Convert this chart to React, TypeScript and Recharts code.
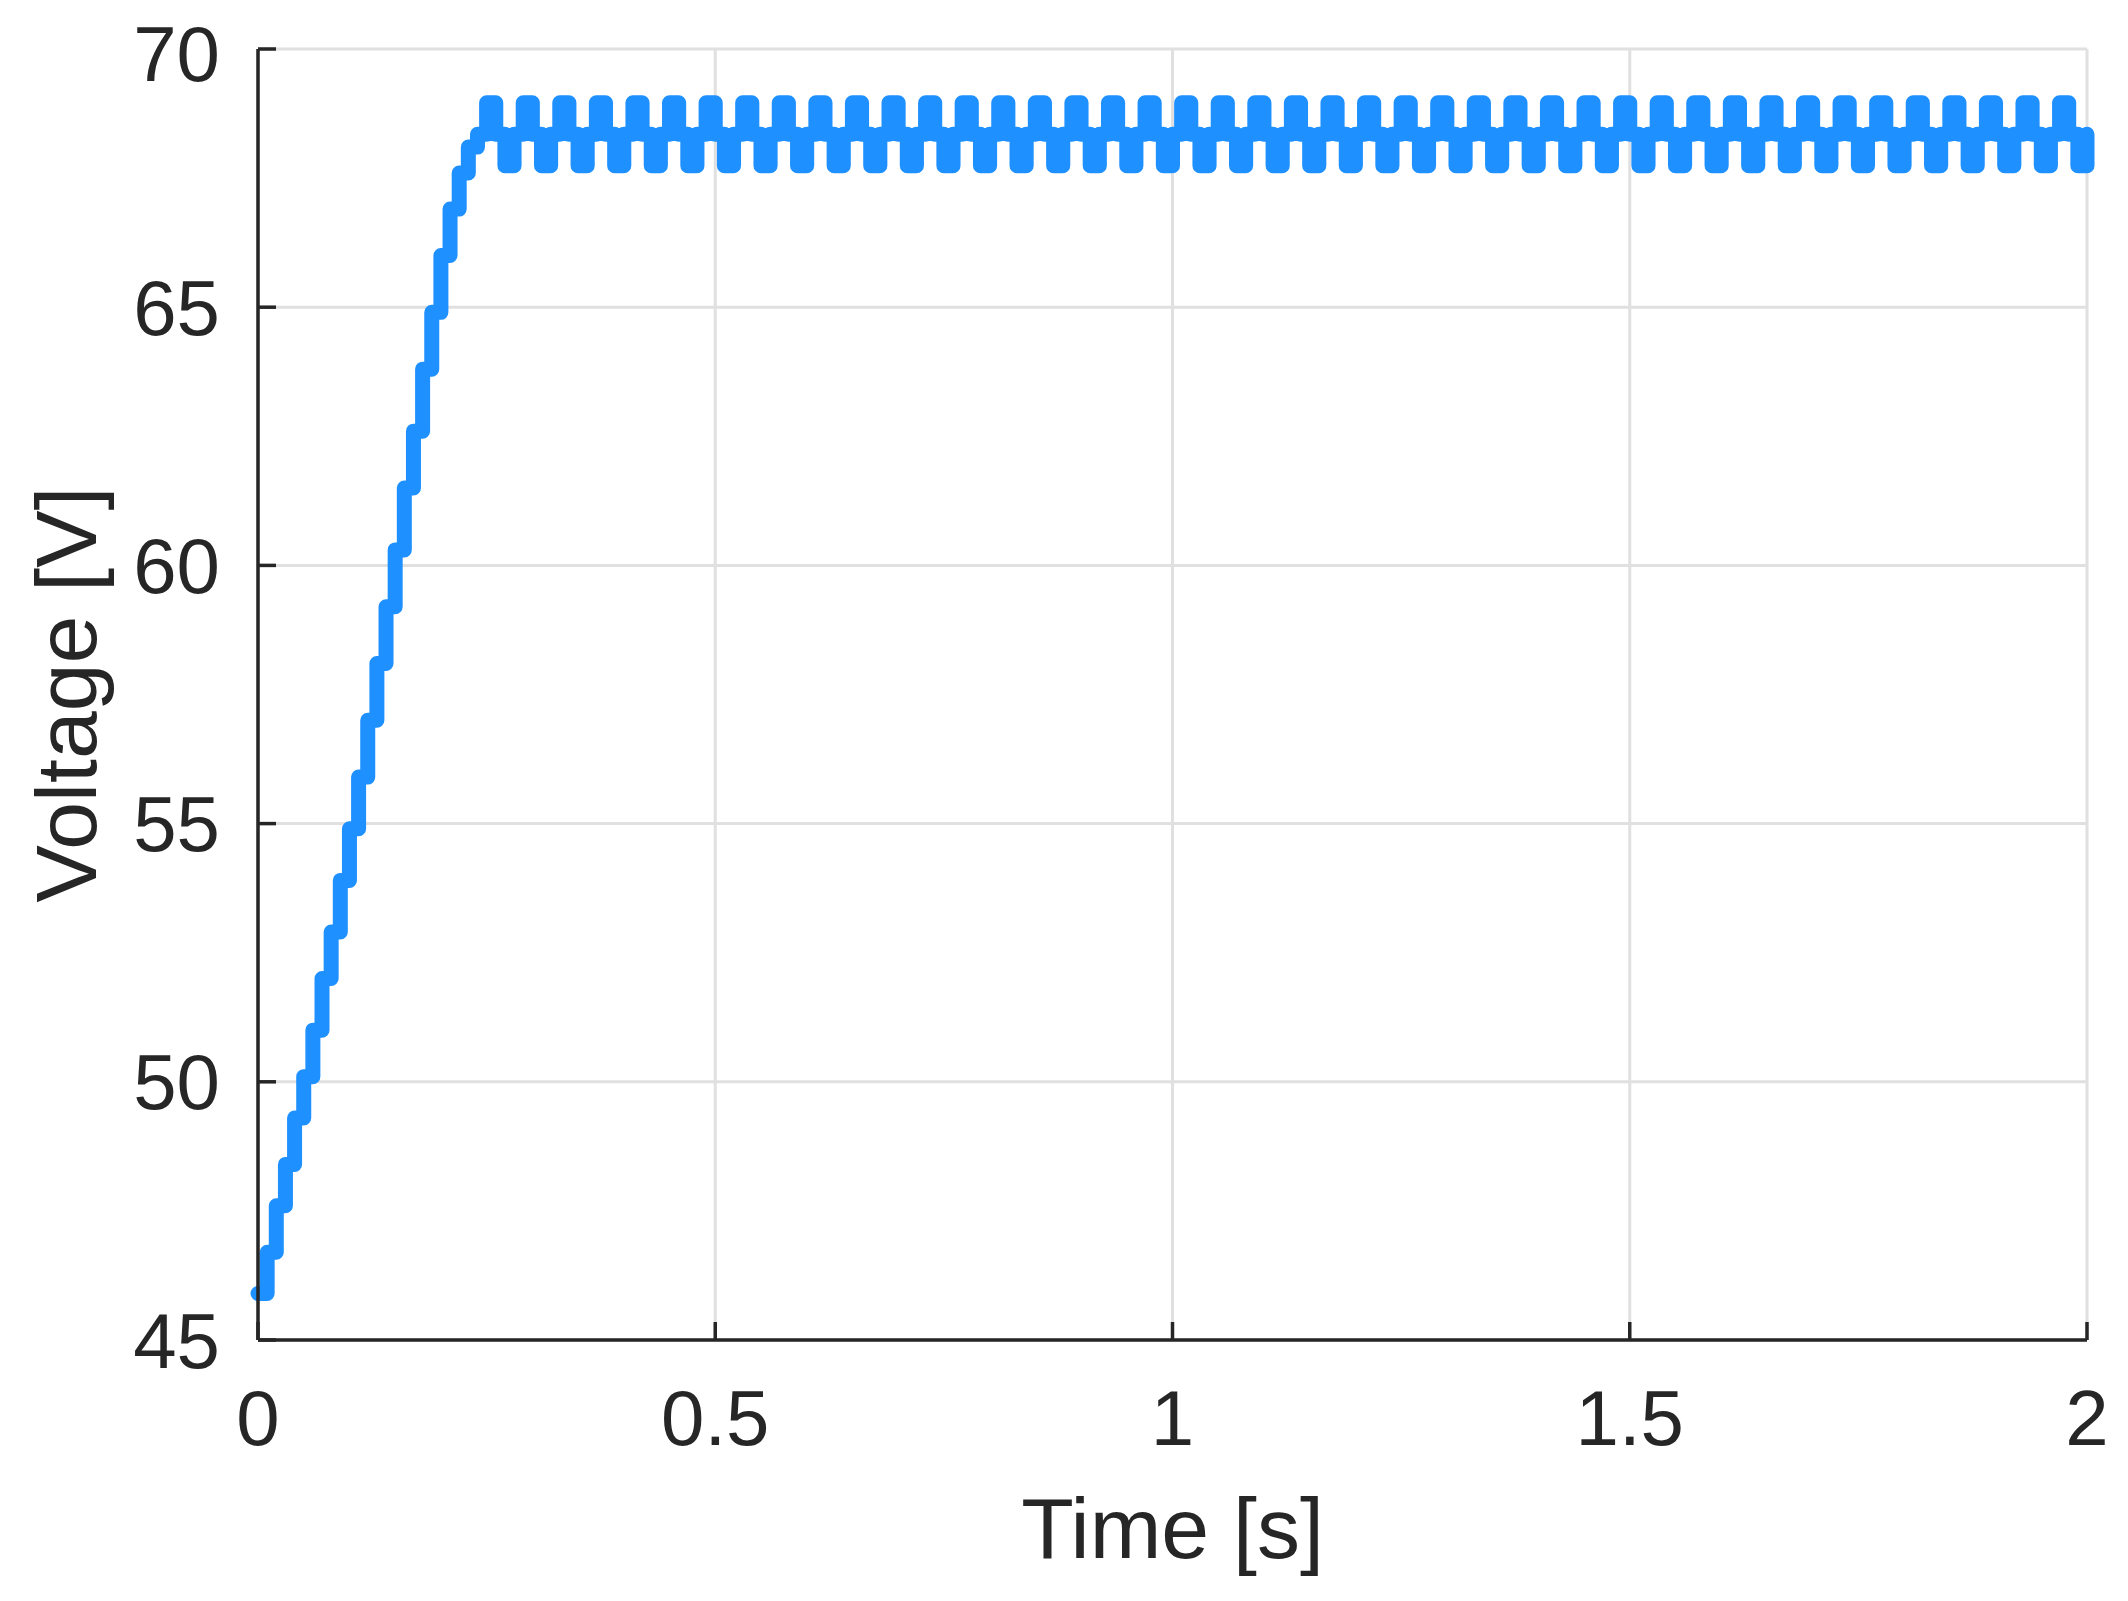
import React from "react";
import { LineChart, Line, XAxis, YAxis, CartesianGrid, Label } from "recharts";

// the trace is a held (stairs) signal sampled every 10 ms
const T0 = 0;
const DT = 0.01;

// charging ramp, one value per sample from t = 0 s
const rampVolts = [
  45.9, 46.7, 47.6, 48.4, 49.3, 50.1, 51.0, 52.0, 52.9, 53.9, 54.9, 55.9,
  57.0, 58.1, 59.2, 60.3, 61.5, 62.6, 63.8, 64.9, 66.0, 66.9, 67.6, 68.1,
];

// steady-state ripple from t = 0.24 s (mid, peak, mid, trough ...)
const rippleVolts = [
  68.35, 68.96, 68.35, 67.74, 68.35, 68.96, 68.35, 67.74,
  68.35, 68.96, 68.35, 67.74, 68.35, 68.96, 68.35, 67.74,
  68.35, 68.96, 68.35, 67.74, 68.35, 68.96, 68.35, 67.74,
  68.35, 68.96, 68.35, 67.74, 68.35, 68.96, 68.35, 67.74,
  68.35, 68.96, 68.35, 67.74, 68.35, 68.96, 68.35, 67.74,
  68.35, 68.96, 68.35, 67.74, 68.35, 68.96, 68.35, 67.74,
  68.35, 68.96, 68.35, 67.74, 68.35, 68.96, 68.35, 67.74,
  68.35, 68.96, 68.35, 67.74, 68.35, 68.96, 68.35, 67.74,
  68.35, 68.96, 68.35, 67.74, 68.35, 68.96, 68.35, 67.74,
  68.35, 68.96, 68.35, 67.74, 68.35, 68.96, 68.35, 67.74,
  68.35, 68.96, 68.35, 67.74, 68.35, 68.96, 68.35, 67.74,
  68.35, 68.96, 68.35, 67.74, 68.35, 68.96, 68.35, 67.74,
  68.35, 68.96, 68.35, 67.74, 68.35, 68.96, 68.35, 67.74,
  68.35, 68.96, 68.35, 67.74, 68.35, 68.96, 68.35, 67.74,
  68.35, 68.96, 68.35, 67.74, 68.35, 68.96, 68.35, 67.74,
  68.35, 68.96, 68.35, 67.74, 68.35, 68.96, 68.35, 67.74,
  68.35, 68.96, 68.35, 67.74, 68.35, 68.96, 68.35, 67.74,
  68.35, 68.96, 68.35, 67.74, 68.35, 68.96, 68.35, 67.74,
  68.35, 68.96, 68.35, 67.74, 68.35, 68.96, 68.35, 67.74,
  68.35, 68.96, 68.35, 67.74, 68.35, 68.96, 68.35, 67.74,
  68.35, 68.96, 68.35, 67.74, 68.35, 68.96, 68.35, 67.74,
  68.35, 68.96, 68.35, 67.74, 68.35, 68.96, 68.35, 67.74,
  68.35,
];

const xTicks = [0, 0.5, 1, 1.5, 2];
const yTicks = [45, 50, 55, 60, 65, 70];

const volts = [...rampVolts, ...rippleVolts];
const data = volts.map((v, i) => ({ t: +(T0 + i * DT).toFixed(3), v }));

const ink = "#262626";
const font = "'Liberation Sans', Arial, Helvetica, sans-serif";
const tickStyle = { fill: ink, fontSize: 78, fontFamily: font };
const axisLine = { stroke: ink, strokeWidth: 3.5 };
const tickLine = { stroke: ink, strokeWidth: 3.5 };
const blank = () => "";

export default function App() {
  return (
    <div style={{ width: 2112, height: 1585 }}>
      <LineChart
        width={2112}
        height={1585}
        data={data}
        margin={{ top: 41, right: 33, left: 0, bottom: 28 }}
      >
        <CartesianGrid stroke="#e0e0e0" strokeWidth={3} />
        <XAxis
          type="number"
          dataKey="t"
          domain={[0, 2]}
          ticks={xTicks}
          height={225}
          axisLine={axisLine}
          tickLine={tickLine}
          tickSize={-18}
          tickMargin={68}
          tick={tickStyle}
          tickFormatter={(v) => String(v)}
        >
          <Label
            value="Time [s]"
            position="insideBottom"
            offset={7}
            style={{ fill: ink, fontSize: 86, fontFamily: font }}
          />
        </XAxis>
        <XAxis
          xAxisId="top"
          orientation="top"
          type="number"
          dataKey="t"
          domain={[0, 2]}
          ticks={xTicks}
          height={0}
          axisLine={axisLine}
          tickLine={tickLine}
          tickSize={-18}
          tickFormatter={blank}
        />
        <YAxis
          type="number"
          domain={[45, 70]}
          ticks={yTicks}
          width={250}
          axisLine={axisLine}
          tickLine={tickLine}
          tickSize={-18}
          tickMargin={56}
          tick={tickStyle}
        >
          <Label
            value="Voltage [V]"
            angle={-90}
            position="insideLeft"
            offset={57}
            style={{ fill: ink, fontSize: 86, fontFamily: font, textAnchor: "middle" }}
          />
        </YAxis>
        <YAxis
          yAxisId="right"
          orientation="right"
          type="number"
          domain={[45, 70]}
          ticks={yTicks}
          width={0}
          axisLine={axisLine}
          tickLine={tickLine}
          tickSize={-18}
          tickFormatter={blank}
        />
        <Line
          type="stepAfter"
          dataKey="v"
          stroke="#1e90ff"
          strokeWidth={15}
          strokeLinejoin="round"
          strokeLinecap="round"
          dot={false}
          activeDot={false}
          isAnimationActive={false}
        />
      </LineChart>
    </div>
  );
}
